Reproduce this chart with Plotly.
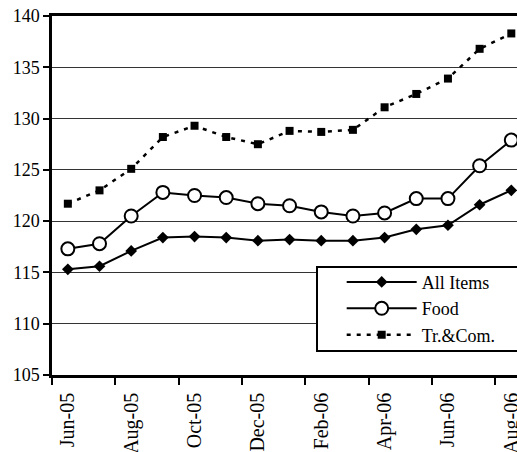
import plotly.graph_objects as go

months = ["Jun-05", "Jul-05", "Aug-05", "Sep-05", "Oct-05", "Nov-05", "Dec-05",
          "Jan-06", "Feb-06", "Mar-06", "Apr-06", "May-06", "Jun-06", "Jul-06", "Aug-06"]
all_items = [115.3, 115.6, 117.1, 118.4, 118.5, 118.4, 118.1, 118.2, 118.1, 118.1,
             118.4, 119.2, 119.6, 121.6, 123.0]
food = [117.3, 117.8, 120.5, 122.8, 122.5, 122.3, 121.7, 121.5, 120.9, 120.5,
        120.8, 122.2, 122.2, 125.4, 127.9]
tr_com = [121.7, 123.0, 125.1, 128.2, 129.3, 128.2, 127.5, 128.8, 128.7, 128.9,
          131.1, 132.4, 133.9, 136.8, 138.3]

FONT = "'Liberation Serif', 'Times New Roman', Times, serif"

fig = go.Figure()
fig.add_trace(go.Scatter(x=months, y=all_items, name="All Items", mode="lines+markers",
                         line=dict(color="black", width=2),
                         marker=dict(symbol="diamond", size=9, color="black")))
fig.add_trace(go.Scatter(x=months, y=food, name="Food", mode="lines+markers",
                         line=dict(color="black", width=2),
                         marker=dict(symbol="circle", size=13, color="white",
                                     line=dict(color="black", width=2))))
fig.add_trace(go.Scatter(x=months, y=tr_com, name="Tr.&Com.", mode="lines+markers",
                         line=dict(color="black", width=2.5, dash="4px,6px"),
                         marker=dict(symbol="square", size=8, color="black")))

fig.update_layout(
    width=517, height=452,
    margin=dict(l=52, r=0, t=16, b=77, autoexpand=False),
    paper_bgcolor="white", plot_bgcolor="white",
    font=dict(family=FONT, color="black"),
    showlegend=True,
    legend=dict(x=0.623, y=0.31, xanchor="left", yanchor="top",
                bgcolor="rgba(0,0,0,0)", borderwidth=0,
                font=dict(family=FONT, size=18, color="black"),
                itemwidth=70, tracegroupgap=0),
    xaxis=dict(type="category", range=[-0.5, 14.18], tickmode="linear", tick0=0, dtick=2,
               tickson="boundaries", ticks="outside", ticklen=7, tickwidth=2, tickcolor="black",
               showline=True, linecolor="black", linewidth=2.5, mirror=True,
               showgrid=False, tickangle=-90, automargin=False, ticklabelstandoff=7,
               tickfont=dict(family=FONT, size=20, color="black")),
    yaxis=dict(range=[105, 140], dtick=5, ticks="outside", ticklen=6, tickwidth=2,
               tickcolor="black", showline=True, linecolor="black", linewidth=2.5,
               showgrid=True, gridcolor="#333333", gridwidth=1, zeroline=False,
               automargin=False,
               tickfont=dict(family=FONT, size=18, color="black")),
    shapes=[dict(type="rect", xref="paper", yref="paper", x0=(317 - 52) / 465, x1=1.05,
                 y0=(375 - 351) / 359, y1=(375 - 267) / 359,
                 line=dict(color="black", width=2), fillcolor="white", layer="above")],
)

fig.write_html("out.html", config={"displayModeBar": False},
               post_script="document.body.style.margin='0';")
